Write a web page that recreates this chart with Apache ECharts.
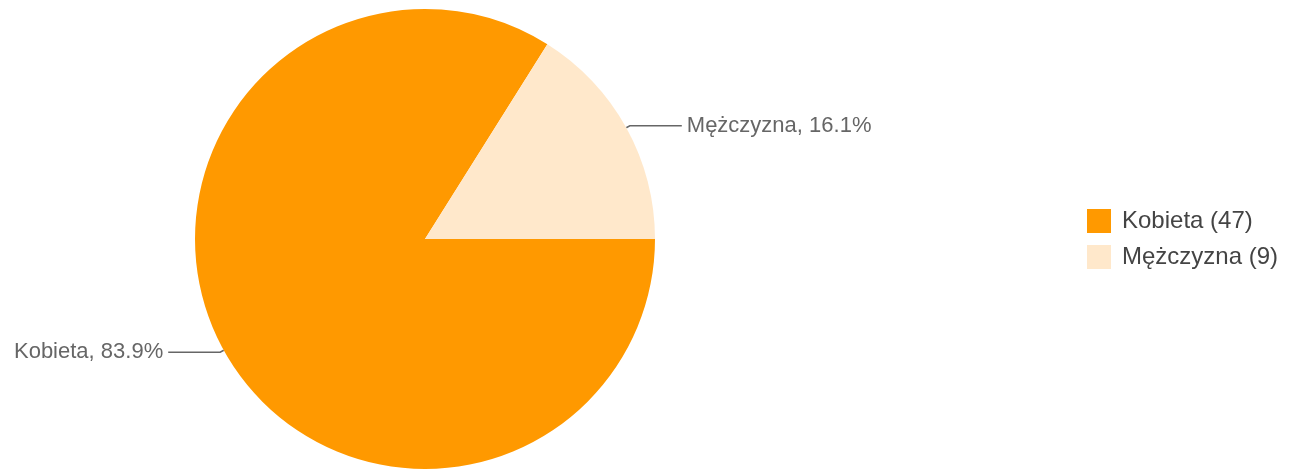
<!DOCTYPE html>
<html>
<head>
<meta charset="utf-8">
<script src="https://cdn.jsdelivr.net/npm/echarts@6/dist/echarts.min.js"></script>
<style>
  html, body { margin: 0; padding: 0; background: #fff; }
  #chart { width: 1290px; height: 469px; }
</style>
</head>
<body>
<div id="chart"></div>
<script>
// dane z ankiety
const categories = ['Kobieta', 'Mężczyzna'];
const counts = [47, 9];
const colors = ['#FF9900', '#FFE8CB'];

const chart = echarts.init(document.getElementById('chart'));

const data = categories.map((name, i) => ({
  name: name,
  value: counts[i],
  itemStyle: { color: colors[i] }
}));

const option = {
  animation: false,
  textStyle: { fontFamily: '"Liberation Sans", Arial, sans-serif' },
  legend: {
    orient: 'vertical',
    left: 1087,
    top: 209,
    padding: 0,
    itemWidth: 24,
    itemHeight: 24,
    itemGap: 12,
    icon: 'rect',
    textStyle: { fontSize: 24, color: '#444', padding: [0, 0, 0, 6] },
    formatter: function (name) {
      const i = categories.indexOf(name);
      return name + ' (' + counts[i] + ')';
    }
  },
  series: [
    {
      type: 'pie',
      center: [425, 239],
      radius: 230,
      startAngle: 0,
      clockwise: true,
      data: data,
      label: {
        show: true,
        fontSize: 22,
        color: '#666',
        formatter: function (p) {
          return p.name + ', ' + p.percent.toFixed(1) + '%';
        }
      },
      labelLine: {
        show: true,
        length: 4,
        length2: 52,
        lineStyle: { color: '#666', width: 1.5 }
      },
      emphasis: { disabled: true }
    }
  ]
};

chart.setOption(option);
</script>
</body>
</html>
